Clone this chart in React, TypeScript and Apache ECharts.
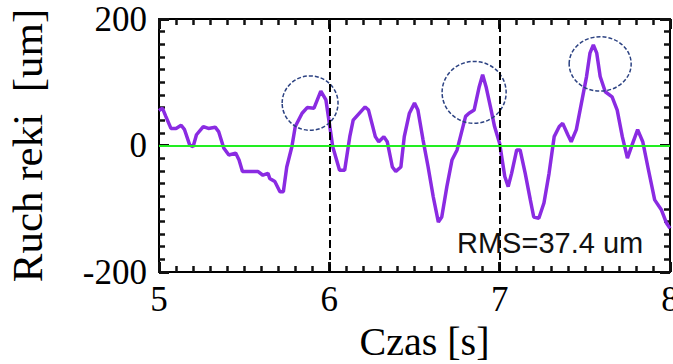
import React, { useEffect, useRef } from "react";
import * as echarts from "echarts";

// time [s]
const times = [
  5.0, 5.02, 5.04, 5.07, 5.1, 5.13, 5.15, 5.18, 5.2, 5.22, 5.26, 5.29, 5.33, 5.35, 5.38, 5.41, 5.45, 5.47, 5.49,
  5.58, 5.61, 5.64, 5.65, 5.68, 5.71, 5.73, 5.75, 5.78, 5.8, 5.84, 5.87, 5.91, 5.95, 5.98, 6.0, 6.02,
  6.06, 6.09, 6.12, 6.14, 6.21, 6.23, 6.27, 6.29, 6.32, 6.34, 6.37, 6.39, 6.42, 6.44, 6.47, 6.5, 6.52,
  6.55, 6.58, 6.61, 6.64, 6.66, 6.69, 6.72, 6.75, 6.78, 6.8, 6.82, 6.85, 6.88, 6.9, 6.92, 6.95, 6.97,
  7.0, 7.03, 7.05, 7.07, 7.1, 7.12, 7.15, 7.18, 7.2, 7.23, 7.26, 7.29, 7.32, 7.35, 7.37, 7.4, 7.42,
  7.45, 7.48, 7.51, 7.53, 7.55, 7.57, 7.59, 7.62, 7.66, 7.69, 7.72, 7.75, 7.78, 7.81, 7.84, 7.87, 7.91,
  7.95, 7.98, 8.0,
];
// hand movement [um]
const movement = [
  55, 59, 46, 27, 27, 32, 25, 1, -2, 17, 30, 27, 29, 22, -4, -15, -12, -23, -41,
  -41, -47, -44, -52, -57, -73, -73, -34, -2, 30, 51, 60, 59, 86, 72, 35, -2,
  -39, -39, 14, 40, 61, 56, 14, 6, 14, 6, -34, -41, -34, 14, 51, 67, 56,
  9, -34, -81, -121, -113, -65, -23, -7, 25, 46, 51, 56, 93, 112, 93, 56, 30,
  3, -49, -65, -44, -7, -7, -44, -86, -113, -115, -91, -44, 14, 30, 35, 17, 6,
  25, 67, 109, 146, 159, 146, 109, 85, 77, 56, 14, -20, 3, 25, 6, -34, -86,
  -102, -123, -131,
];
// highlighted peaks: centre time, centre value, half-width [s], half-height [um]
const circleT = [5.887, 6.85, 7.59];
const circleV = [67, 84, 129];
const circleRT = [0.164, 0.188, 0.182];
const circleRV = [43, 49, 43];

const dashedTimes = [6, 7];
const xTicks = { min: 5, max: 8, interval: 1 };
const yTicks = { min: -200, max: 200, interval: 200 };
const rmsLabel = "RMS=37.4 um";
const xTitle = "Czas [s]";
const yTitle = "Ruch reki  [um]";

export default function App() {
  const ref = useRef<HTMLDivElement>(null);
  useEffect(() => {
    if (!ref.current) return;
    const chart = echarts.init(ref.current, null, { renderer: "svg" });
    const serif = "'Liberation Serif', 'Times New Roman', serif";
    const tickColor = "#111111";
    const mkAxis = () => ({
      axisLine: { show: true, onZero: false, lineStyle: { color: "#000", width: 2 } },
      axisTick: { show: true, inside: true, length: 10, lineStyle: { color: tickColor, width: 3 } },
      minorTick: { show: true, splitNumber: 10, length: 6, lineStyle: { color: tickColor, width: 2.5 } },
      splitLine: { show: false },
      minorSplitLine: { show: false },
    });
    const option: any = {
      animation: false,
      backgroundColor: "#fff",
      textStyle: { fontFamily: serif },
      grid: { left: 159, top: 19, right: 3, bottom: 92, containLabel: false, outerBoundsMode: "none" },
      xAxis: [
        {
          type: "value",
          ...xTicks,
          ...mkAxis(),
          name: xTitle,
          nameLocation: "middle",
          nameGap: 44,
          nameTextStyle: { fontFamily: serif, fontSize: 40, color: "#000", padding: [0, 0, 0, 20] },
          axisLabel: { fontFamily: serif, fontSize: 35, color: "#000", margin: 10 },
        },
        {
          type: "value",
          position: "top",
          ...xTicks,
          ...mkAxis(),
          axisLabel: { show: false },
        },
      ],
      yAxis: [
        {
          type: "value",
          ...yTicks,
          ...mkAxis(),
          name: yTitle,
          nameLocation: "middle",
          nameGap: 110,
          nameTextStyle: { fontFamily: serif, fontSize: 43, color: "#000" },
          axisLabel: { fontFamily: serif, fontSize: 35, color: "#000", margin: 12 },
        },
        {
          type: "value",
          position: "right",
          ...yTicks,
          ...mkAxis(),
          axisLabel: { show: false },
        },
      ],
      series: [
        {
          type: "line",
          data: [],
          z: 1,
          silent: true,
          markLine: {
            silent: true,
            symbol: "none",
            label: { show: false },
            data: [
              ...dashedTimes.map((t) => ({
                xAxis: t,
                lineStyle: { color: "#000", width: 2, type: [8, 4] },
              })),
              { yAxis: 0, lineStyle: { color: "#22ee22", width: 2, type: "solid" } },
            ],
          },
        },
        {
          type: "line",
          z: 3,
          data: times.map((t, i) => [t, movement[i]]),
          showSymbol: false,
          lineStyle: { color: "#8a2be2", width: 3.5 },
          itemStyle: { color: "#8a2be2" },
          clip: true,
        },
        {
          type: "custom",
          z: 4,
          data: circleT.map((t, i) => [t, circleV[i], circleRT[i], circleRV[i]]),
          renderItem: (params: any, api: any) => {
            const c = api.coord([api.value(0), api.value(1)]);
            const s = api.size([api.value(2), api.value(3)]);
            return {
              type: "ellipse",
              shape: { cx: c[0], cy: c[1], rx: s[0], ry: s[1] },
              style: { fill: "none", stroke: "#2c4282", lineWidth: 1.5, lineDash: [4, 2] },
            };
          },
        },
      ],
      graphic: [
        {
          type: "text",
          left: 457,
          top: 228,
          z: 10,
          style: {
            text: rmsLabel,
            font: "29px 'Liberation Sans'",
            fill: "#111",
          },
        },
      ],
    };
    chart.setOption(option);
    return () => chart.dispose();
  }, []);
  return (
    <div
      ref={ref}
      style={{ position: "fixed", left: 0, top: 0, width: 673, height: 364, background: "#fff" }}
    />
  );
}
